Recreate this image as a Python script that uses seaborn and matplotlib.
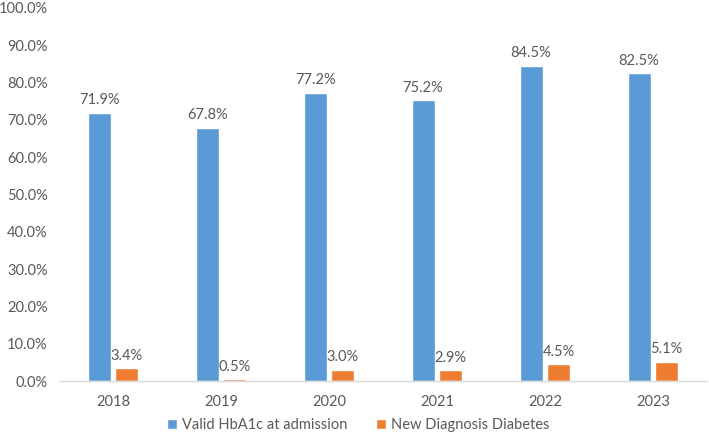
import pandas as pd
import matplotlib.pyplot as plt
import seaborn as sns
from matplotlib.ticker import FuncFormatter

years = ["2018", "2019", "2020", "2021", "2022", "2023"]
valid_hba1c = [71.9, 67.8, 77.2, 75.2, 84.5, 82.5]
new_diabetes = [3.4, 0.5, 3.0, 2.9, 4.5, 5.1]
series_names = ["Valid HbA1c at admission", "New Diagnosis Diabetes"]

df = pd.DataFrame({
    "Year": years * 2,
    "Value": valid_hba1c + new_diabetes,
    "Series": [series_names[0]] * len(years) + [series_names[1]] * len(years),
})

sns.set_theme(style="white")
plt.rcParams["font.family"] = ["Lato", "DejaVu Sans"]
grey = "#595959"

fig = plt.figure(figsize=(7.09, 4.36), dpi=100)
ax = fig.add_axes([0.083, 0.126, 0.914, 0.856])

sns.barplot(data=df, x="Year", y="Value", hue="Series",
            palette=["#5B9BD5", "#ED7D31"], width=0.51, gap=0.165,
            saturation=1, ax=ax)

for cont in ax.containers:
    ax.bar_label(cont, labels=[f"{v:.1f}%" for v in cont.datavalues],
                 padding=4, fontsize=10.5, color=grey)

ax.set_ylim(0, 100)
ax.set_yticks(range(0, 101, 10))
ax.yaxis.set_major_formatter(FuncFormatter(lambda v, p: f"{v:.1f}%"))
ax.set_xlim(-0.5, 5.5)
ax.set_xlabel("")
ax.set_ylabel("")
ax.tick_params(axis="both", colors=grey, labelsize=10.5, length=0)
ax.tick_params(axis="x", pad=10)
ax.tick_params(axis="y", pad=8)

for s in ["top", "right", "left"]:
    ax.spines[s].set_visible(False)
ax.spines["bottom"].set_color("#D9D9D9")
ax.spines["bottom"].set_linewidth(1)

handles, labels = ax.get_legend_handles_labels()
ax.get_legend().remove()
leg = fig.legend(handles, labels, loc="center", bbox_to_anchor=(0.505, 0.025),
                 ncol=2, frameon=False, fontsize=10.5, handlelength=0.7,
                 handleheight=0.7, handletextpad=0.3, columnspacing=2.0)
for t in leg.get_texts():
    t.set_color(grey)

fig.savefig("out.png", dpi=100)
